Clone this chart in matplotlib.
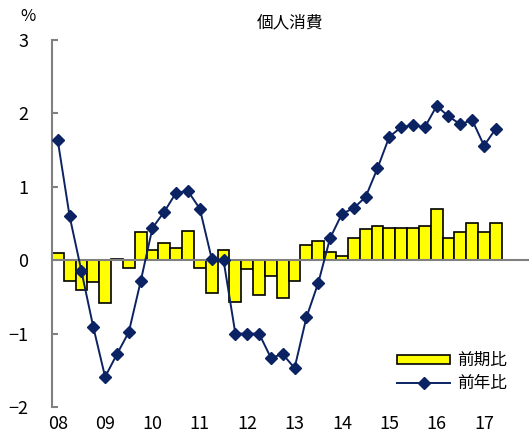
import numpy as np
import matplotlib.pyplot as plt

plt.rcParams['font.family'] = ['Noto Sans CJK JP', 'DejaVu Sans']

# 2008Q1 - 2017Q2, quarterly
qoq = [0.10, -0.28, -0.40, -0.30, -0.59, 0.02, -0.10, 0.38,
       0.14, 0.24, 0.16, 0.40, -0.10, -0.45, 0.14, -0.57,
       -0.12, -0.48, -0.22, -0.52, -0.28, 0.21, 0.26, 0.11,
       0.05, 0.30, 0.42, 0.47, 0.44, 0.44, 0.44, 0.47,
       0.70, 0.30, 0.38, 0.51, 0.38, 0.51]
yoy = [1.63, 0.60, -0.15, -0.91, -1.59, -1.28, -0.98, -0.29,
       0.44, 0.66, 0.92, 0.94, 0.70, 0.02, 0.00, -1.00,
       -1.00, -1.00, -1.33, -1.28, -1.47, -0.78, -0.31, 0.30,
       0.63, 0.71, 0.86, 1.25, 1.68, 1.81, 1.84, 1.81,
       2.10, 1.96, 1.85, 1.91, 1.56, 1.79]
year_labels = ['08', '09', '10', '11', '12', '13', '14', '15', '16', '17']

x = np.arange(len(qoq))
navy = '#0b2263'

fig = plt.figure(figsize=(5.29, 4.36), dpi=100)
ax = fig.add_axes([0.098, 0.0665, 0.902, 0.842])

bars = ax.bar(x, qoq, width=1.0, color='#ffff00', edgecolor='black', linewidth=1.2,
              label='前期比', zorder=2)
ax.axhline(0, color='#808080', linewidth=1.5, zorder=3)
line, = ax.plot(x, yoy, color=navy, linewidth=1.4, marker='D', markersize=6.5,
                label='前年比', zorder=4)

ax.set_xlim(-0.5, 39.8)
ax.set_ylim(-2, 3)
ax.set_yticks(range(-2, 4))
ax.set_yticklabels(['−2', '−1', '0', '1', '2', '3'])
ax.set_xticks(x[::4])
ax.set_xticklabels(year_labels)

for s in ['top', 'right', 'bottom']:
    ax.spines[s].set_visible(False)
ax.spines['left'].set_color('#808080')
ax.spines['left'].set_linewidth(1.5)
ax.tick_params(axis='y', direction='in', length=4, color='#808080', width=1.5,
               pad=17, labelsize=13)
ax.tick_params(axis='x', length=0, pad=6, labelsize=13)

fig.text(0.548, 0.948, '個人消費', ha='center', va='center', fontsize=12)
fig.text(0.052, 0.963, '%', ha='center', va='center', fontsize=12)

ax.legend([bars, line], ['前期比', '前年比'], loc='lower right',
          bbox_to_anchor=(0.985, 0.0), frameon=False,
          fontsize=12, handlelength=3.2, handleheight=0.45,
          handletextpad=0.4, labelspacing=0.35)

fig.savefig('out.png', dpi=100)
